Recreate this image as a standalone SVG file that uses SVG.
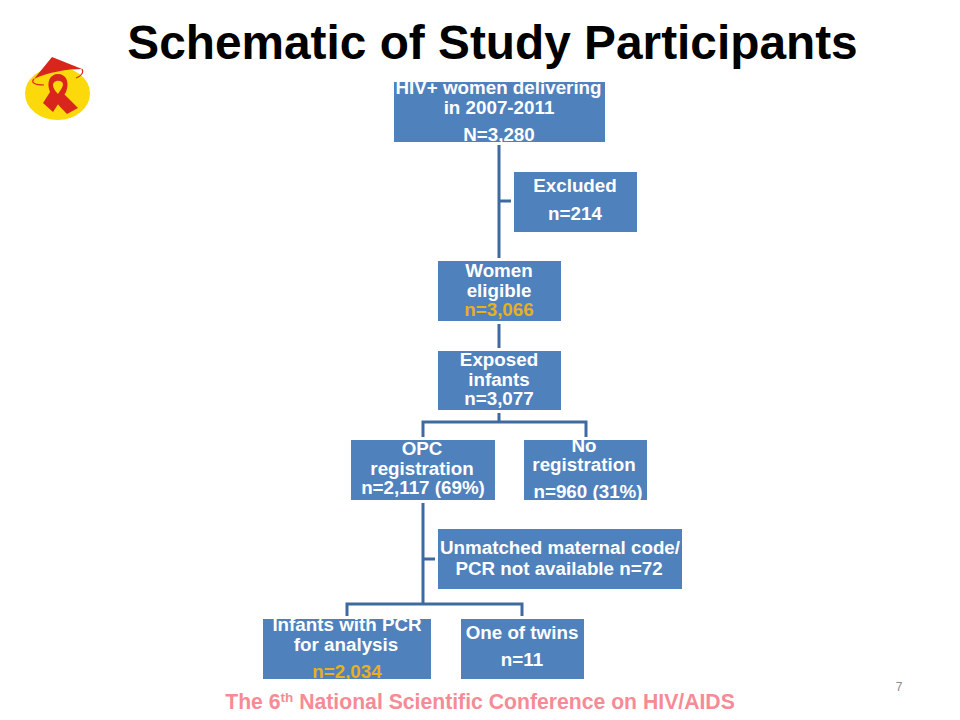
<svg xmlns="http://www.w3.org/2000/svg" width="960" height="720" viewBox="0 0 960 720">
<style>
text{font-family:"Liberation Sans",Arial,sans-serif;font-weight:700;text-anchor:middle}
.b{fill:#4f81bd}
.t{fill:#fff;font-size:18.8px}
.c{fill:none;stroke:#3f6a9f;stroke-width:3}
</style>
<defs>
<clipPath id="c1"><rect x="394" y="82" width="211" height="60"/></clipPath>
<clipPath id="c2"><rect x="524" y="440" width="123" height="60"/></clipPath>
<clipPath id="c3"><rect x="263" y="619" width="168" height="60"/></clipPath>
</defs>
<rect width="960" height="720" fill="#fff"/>
<text id="title" x="492.500" y="59" font-size="47.800" fill="#000">Schematic of Study Participants</text>
<g id="logo">
<ellipse cx="57.500" cy="93.500" rx="32.500" ry="26.500" fill="#fbd90a"/>
<path d="M34 79 52 57 82 69C68 69 48 72 34 79Z" fill="#d9261c"/>
<path d="M82 69C84 73 81 76 76 78" fill="none" stroke="#d9261c" stroke-width="1.200"/>
<path d="M34 79C30 83 36 85 44 85" fill="none" stroke="#d9261c" stroke-width="1.200"/>
<path d="M50 92C46 82 50 74 58 74C66 74 70 82 66 92L53 112 43 103Z" fill="#d9261c"/>
<path d="M50 92C52 97 56 103 67 114L78 108 62 92 54 85Z" fill="#d9261c"/>
<path d="M53 85C53 80 62 79 63 84C63 87 60 91 58 94C55 91 53 88 53 85Z" fill="#fbd90a"/>
</g>
<g id="connectors">
<path class="c" d="M499 145V258M499 201H511"/>
<path class="c" d="M499 324V348"/>
<path class="c" d="M499 413V422M423 437V422H586V437"/>
<path class="c" d="M423 503V604M423 559H435"/>
<path class="c" d="M347 616V604H522V616"/>
</g>
<g id="node-hiv">
<rect class="b" x="394" y="82" width="211" height="60"/>
<g clip-path="url(#c1)"><text class="t" x="498.500" y="94">HIV+ women delivering</text>
<text class="t" x="499" y="114">in 2007-2011</text>
<text class="t" x="499" y="141">N=3,280</text></g>
</g>
<g id="node-excluded">
<rect class="b" x="514" y="172" width="123" height="60"/>
<text class="t" x="575" y="192">Excluded</text>
<text class="t" x="575" y="220">n=214</text>
</g>
<g id="node-women">
<rect class="b" x="438" y="261" width="123" height="60"/>
<text class="t" x="499" y="277">Women</text>
<text class="t" x="499" y="297">eligible</text>
<text class="t" style="fill:#e6b01e" x="499" y="316">n=3,066</text>
</g>
<g id="node-exposed">
<rect class="b" x="438" y="351" width="123" height="59"/>
<text class="t" x="499" y="366">Exposed</text>
<text class="t" x="499" y="386">infants</text>
<text class="t" x="499" y="405">n=3,077</text>
</g>
<g id="node-opc">
<rect class="b" x="351" y="440" width="144" height="60"/>
<text class="t" x="422" y="455">OPC</text>
<text class="t" x="422" y="475">registration</text>
<text class="t" x="423" y="494">n=2,117 (69%)</text>
</g>
<g id="node-noreg">
<rect class="b" x="524" y="440" width="123" height="60"/>
<g clip-path="url(#c2)"><text class="t" x="584" y="452">No</text>
<text class="t" x="584" y="471">registration</text>
<text class="t" x="588" y="498">n=960 (31%)</text></g>
</g>
<g id="node-unmatched">
<rect class="b" x="438" y="529" width="244" height="60"/>
<text class="t" x="560" y="554">Unmatched maternal code/</text>
<text class="t" x="559" y="575">PCR not available n=72</text>
</g>
<g id="node-infants">
<rect class="b" x="263" y="619" width="168" height="60"/>
<g clip-path="url(#c3)"><text class="t" x="347" y="631">Infants with PCR</text>
<text class="t" x="346" y="651">for analysis</text>
<text class="t" style="fill:#e6b01e" x="347" y="678">n=2,034</text></g>
</g>
<g id="node-twins">
<rect class="b" x="461" y="619" width="123" height="60"/>
<text class="t" x="522" y="639">One of twins</text>
<text class="t" x="522" y="666">n=11</text>
</g>
<text id="footer" x="480" y="709" font-size="21.200" fill="#f58b95">The 6<tspan font-size="13.500" dy="-7">th</tspan><tspan dy="7"> National Scientific Conference on HIV/AIDS</tspan></text>
<text id="page" x="899" y="691" font-size="12" fill="#8b8b8b" style="font-weight:400">7</text>
</svg>
